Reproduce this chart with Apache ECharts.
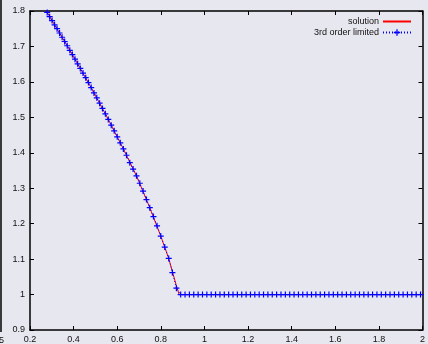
<!DOCTYPE html>
<html><head><meta charset="utf-8">
<script src="https://cdn.jsdelivr.net/npm/echarts@6/dist/echarts.min.js"></script>
<style>html,body{margin:0;padding:0;background:#e8e8f0;}#c{width:428px;height:344px;}</style>
</head><body><div id="c"></div>
<script>
var seriesNames = ['solution', '3rd order limited'];
// exact solution (red)
var solX = [0.26, 0.3127, 0.3706, 0.4307, 0.4934, 0.5590, 0.6282, 0.6884, 0.7492, 0.7996, 0.8362, 0.8714, 0.884, 2.0];
var solY = [1.815, 1.761, 1.702, 1.638, 1.569, 1.494, 1.411, 1.335, 1.245, 1.165, 1.102, 1.025, 1.000, 1.000];
// 3rd order limited (blue points)
var limX = [0.2677,0.2788,0.2900,0.3013,0.3127,0.3241,0.3356,0.3472,0.3589,0.3706,0.3824,0.3944,0.4064,0.4185,0.4307,0.4431,0.4555,0.4680,0.4806,0.4934,0.5062,0.5192,0.5323,0.5456,0.5590,0.5725,0.5862,0.6000,0.6140,0.6282,0.6426,0.6577,0.6728,0.6884,0.7035,0.7186,0.7341,0.7492,0.7662,0.7826,0.7996,0.8179,0.8362,0.8531,0.8714,
0.891,0.911,0.931,0.951,0.971,0.991,1.011,1.031,1.051,1.071,1.091,1.111,1.131,1.151,1.171,1.191,1.211,1.231,1.251,1.271,1.291,1.311,1.331,1.351,1.371,1.391,1.411,1.431,1.451,1.471,1.491,1.511,1.531,1.551,1.571,1.591,1.611,1.631,1.651,1.671,1.691,1.711,1.731,1.751,1.771,1.791,1.811,1.831,1.851,1.871,1.891,1.911,1.931,1.951,1.971,1.991];
var limY = [1.807,1.796,1.784,1.773,1.761,1.750,1.738,1.726,1.714,1.702,1.689,1.677,1.664,1.651,1.638,1.625,1.612,1.598,1.584,1.569,1.555,1.540,1.525,1.510,1.494,1.478,1.462,1.445,1.428,1.411,1.393,1.372,1.354,1.335,1.314,1.292,1.268,1.245,1.220,1.194,1.165,1.134,1.102,1.062,1.018,
1,1,1,1,1,1,1,1,1,1,1,1,1,1,1,1,1,1,1,1,1,1,1,1,1,1,1,1,1,1,1,1,1,1,1,1,1,1,1,1,1,1,1,1,1,1,1,1,1,1,1,1,1,1,1,1];
var xMin = 0.2, xMax = 2.0, xStep = 0.2;
var yMin = 0.9, yMax = 1.8, yStep = 0.1;

function pairs(xs, ys){ return xs.map(function(x,i){ return [x, ys[i]]; }); }

var font = 'Liberation Sans, Arial, sans-serif';
var axisCommon = function(pos, showLabel){
  return {
    type: 'value', position: pos,
    axisLine: {show: true, onZero: false, lineStyle: {color: '#000', width: 1.5}},
    axisTick: {show: true, inside: true, length: 4, lineStyle: {color: '#000', width: 1}},
    splitLine: {show: false},
    axisLabel: {show: showLabel, color: '#111', fontSize: 9, fontFamily: font, margin: 5}
  };
};
var xb = axisCommon('bottom', true); xb.min = xMin; xb.max = xMax; xb.interval = xStep;
var xt = axisCommon('top', false); xt.min = xMin; xt.max = xMax; xt.interval = xStep;
var yl = axisCommon('left', true); yl.min = yMin; yl.max = yMax; yl.interval = yStep;
var yr = axisCommon('right', false); yr.min = yMin; yr.max = yMax; yr.interval = yStep;

var plus = 'path://M4,0h2v10h-2z M0,4h10v2h-10z';
var chart = echarts.init(document.getElementById('c'), null, {renderer: 'canvas'});
chart.setOption({
  backgroundColor: '#e7e7f0',
  animation: false,
  grid: {left: 30, top: 11, width: 393.5, height: 321.5, containLabel: false},
  xAxis: [xb, xt],
  yAxis: [yl, yr],
  legend: [
    {data: [{name: seriesNames[0], itemStyle: {opacity: 0}}], right: 11, top: 12, itemWidth: 28, itemHeight: 8, itemGap: 0,
     textStyle: {fontSize: 9, fontFamily: font, color: '#111', padding: [0, -1, 0, 0]}, align: 'right'},
    {data: [seriesNames[1]], right: 11, top: 23, itemWidth: 28, itemHeight: 8, itemGap: 0,
     textStyle: {fontSize: 9, fontFamily: font, color: '#111', padding: [0, -1, 0, 0]}, align: 'right'}
  ],
  graphic: [
    {type: 'line', shape: {x1: 1, y1: 0, x2: 1, y2: 332}, style: {stroke: '#000', lineWidth: 1.5}},
    {type: 'text', left: -1, top: 336, style: {text: '5', fontSize: 9, fontFamily: font, fill: '#111'}}
  ],
  series: [
    {name: seriesNames[0], type: 'line', data: pairs(solX, solY), symbol: 'none',
     lineStyle: {color: '#ff0000', width: 1}, itemStyle: {color: '#ff0000'}, z: 2},
    {name: seriesNames[1], type: 'line', data: pairs(limX, limY), symbol: plus, symbolSize: 6,
     lineStyle: {color: '#0000ff', width: 1, type: [1, 2]}, itemStyle: {color: '#0000ff'}, z: 3}
  ]
});
</script></body></html>
